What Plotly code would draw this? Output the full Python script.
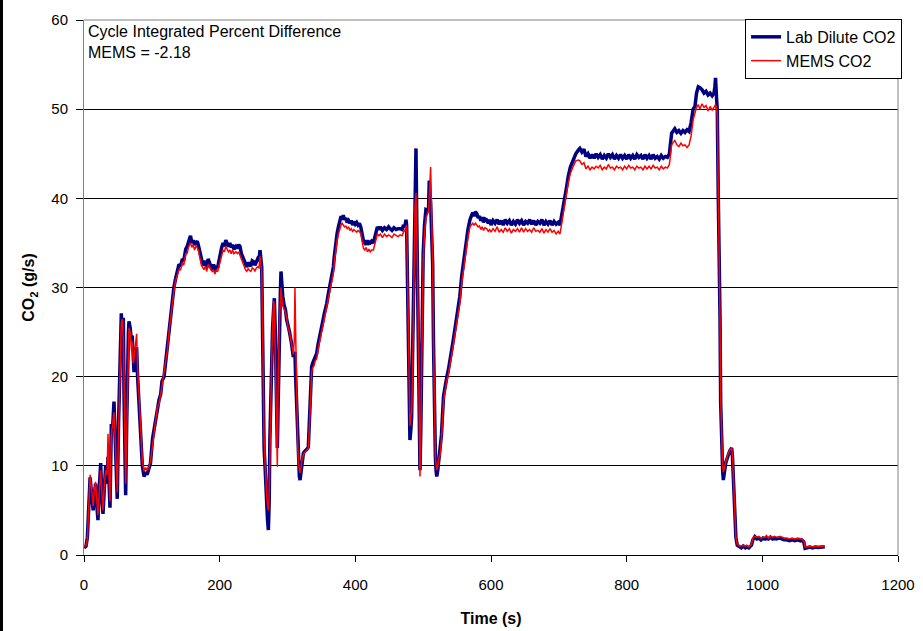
import plotly.graph_objects as go

time_s = [0, 3, 5, 7, 9, 11, 13.5, 15, 17, 19, 20.6, 22.5, 24.6, 26, 28, 30, 32, 34, 35.4, 37, 38.3, 40.3, 42, 44.2, 46, 47.5, 49, 51, 52.6, 54, 55, 56.5, 58, 59, 60, 61.4, 63, 64, 65.5, 66.3, 68, 70, 71, 72.5, 73.7, 75, 77.6, 79, 81, 83.5, 86, 88.5, 91, 93, 95.8, 98, 101, 103, 105.6, 108, 110.6, 113, 115, 118, 120, 123, 126, 128, 130, 132.5, 135, 138, 140, 142.5, 145, 147, 150, 152, 154, 157, 159, 161, 163, 165, 167, 169, 171, 173, 174.5, 177, 179, 181, 183, 185, 187, 189, 191, 193, 195, 197, 199, 201, 203, 205, 207, 209, 211, 213, 215, 217, 219, 221, 224, 226, 228, 230, 232, 234, 236, 238, 240, 242, 244, 246, 248, 250, 252, 254, 256, 258, 259.5, 261, 262, 263.4, 264.4, 265.5, 266.9, 268, 269.3, 270.5, 271.8, 273, 274, 275.5, 276.7, 278, 279.5, 280.6, 282, 283, 284, 285, 286, 287, 288, 289.5, 290.4, 291.5, 293, 295, 297, 298.8, 301, 303, 306, 307.5, 308.6, 310, 311, 312, 313.5, 315, 316, 317.5, 318.5, 320, 321.5, 323.4, 325, 327, 329, 330.7, 332, 333.5, 335.6, 337, 339, 341, 343, 345, 347, 350, 352, 354, 356, 357.8, 360, 362, 364, 366, 367.6, 369, 371, 373, 375, 377, 379, 380.5, 382.3, 384, 386, 388, 390, 392, 394, 396, 398, 400, 402, 404, 406, 408, 410, 412, 414, 416, 418, 420, 422, 424, 426.6, 428, 430, 432.5, 435, 437, 440, 443, 446, 449, 451, 454, 457, 460, 463, 466, 469, 471, 473, 474.7, 475.6, 476.6, 478, 479.3, 480.5, 481.8, 483, 484.3, 485.5, 486.8, 488, 489.4, 490.5, 491.6, 492.8, 494, 495.3, 496.5, 497.7, 499, 500, 502, 504, 506, 508, 509, 510, 511, 512.5, 514, 515.2, 516.4, 518, 519, 520, 521.5, 523, 525, 527, 530, 533, 535, 537, 540, 542, 544.4, 547, 549, 552, 554, 556.7, 559, 561.6, 564, 566, 569, 571, 573, 575, 577, 579, 581, 583, 585, 587, 589, 591, 593.6, 596, 598, 600, 603, 606, 609, 612, 615, 618, 621, 624, 627, 630, 633, 636, 639, 642, 645, 648, 651, 654, 657, 660, 663, 666, 669, 672, 675, 678, 681, 684, 687, 690, 693, 696, 699, 701.7, 704, 706.6, 709, 711.5, 714, 717, 721.3, 725, 728.7, 731, 734, 737, 740, 743, 746, 749, 752, 755, 758, 761, 764, 767, 770, 773, 776, 779, 782, 785, 788, 791, 794, 797, 800, 803, 806, 809, 812, 815, 818, 821, 824, 827, 830, 833, 836, 839, 842, 845, 848, 851, 854, 857, 860, 863, 866.3, 868.5, 871, 874, 877, 880, 883, 886, 889, 892, 895, 898, 900.7, 903, 905.6, 908, 911, 914, 917, 920, 923, 926, 928.7, 930, 931, 932.7, 933.6, 935, 936.6, 937.6, 938.6, 940, 941.5, 942.5, 944, 946, 948, 950, 952, 954.8, 956, 957.2, 958.5, 959.7, 961, 963, 966, 969, 972, 975, 977, 980, 984, 986, 989, 992, 995, 998, 1001, 1004, 1006, 1009, 1012, 1015, 1018, 1021, 1024, 1026, 1029, 1032, 1036, 1040, 1044, 1048, 1052, 1056, 1058, 1061, 1063, 1066, 1070, 1074, 1078, 1082, 1086, 1090, 1092]

lab_co2 = [0.8, 1.0, 2.0, 5.7, 8.7, 7.0, 5.0, 6.5, 8.0, 5.5, 3.9, 7.5, 10.3, 7.0, 4.6, 7.5, 10.0, 8.0, 11.0, 8.0, 5.3, 14.7, 14.0, 17.2, 12.0, 8.0, 6.3, 15.0, 21.7, 24.0, 27.1, 24.0, 26.6, 18.0, 11.4, 6.7, 15.0, 20.6, 25.0, 26.2, 25.5, 24.0, 24.6, 22.5, 20.5, 22.0, 23.3, 20.0, 17.2, 13.5, 10.0, 8.8, 9.3, 9.0, 9.7, 10.3, 13.0, 14.0, 15.1, 16.5, 17.4, 18.0, 19.5, 20.0, 21.5, 23.3, 26.0, 27.2, 28.3, 30.0, 31.0, 31.8, 32.6, 32.4, 33.2, 33.0, 34.3, 34.6, 35.2, 35.8, 35.0, 35.3, 34.8, 35.0, 35.2, 34.6, 33.8, 33.0, 32.8, 32.5, 33.0, 32.2, 33.2, 32.8, 32.4, 32.0, 32.6, 31.8, 32.4, 32.2, 33.0, 33.9, 34.5, 35.0, 34.6, 35.3, 35.0, 34.6, 35.0, 34.5, 34.8, 34.3, 34.6, 34.4, 34.8, 34.6, 33.8, 33.4, 33.1, 32.6, 32.3, 32.8, 32.5, 32.4, 33.0, 32.9, 32.5, 33.0, 33.2, 33.0, 34.2, 33.0, 32.3, 24.1, 15.5, 12.0, 9.9, 7.5, 6.2, 4.0, 2.8, 6.0, 12.9, 19.0, 23.7, 25.5, 27.5, 28.8, 25.0, 21.1, 15.0, 12.0, 16.0, 22.0, 26.7, 29.5, 31.8, 30.5, 29.0, 28.0, 27.5, 26.4, 25.8, 25.0, 23.7, 22.8, 22.2, 22.6, 22.6, 20.0, 16.6, 12.0, 9.9, 8.8, 8.4, 9.5, 10.6, 11.4, 11.6, 11.7, 11.9, 12.1, 14.5, 18.0, 21.1, 21.5, 21.8, 22.3, 22.6, 23.6, 24.5, 25.6, 26.2, 27.0, 27.6, 28.2, 29.2, 30.0, 30.8, 31.6, 32.3, 33.5, 35.0, 36.0, 36.8, 37.5, 38.0, 37.6, 38.1, 37.6, 37.8, 37.3, 37.5, 37.2, 37.5, 37.0, 37.4, 37.1, 37.3, 37.0, 37.2, 36.8, 35.8, 35.2, 35.0, 35.3, 34.8, 35.1, 35.0, 35.2, 35.0, 35.4, 35.8, 36.8, 36.5, 36.8, 36.4, 36.7, 36.5, 36.8, 36.6, 36.4, 36.7, 36.5, 36.6, 36.6, 36.5, 37.0, 36.8, 37.6, 37.0, 31.6, 22.2, 16.0, 12.9, 14.0, 15.5, 22.0, 29.0, 36.0, 41.3, 45.6, 38.0, 32.0, 25.2, 16.0, 9.5, 14.0, 21.5, 28.0, 33.8, 37.0, 38.7, 38.6, 39.0, 42.0, 41.0, 39.5, 36.0, 32.7, 24.0, 15.5, 11.0, 9.5, 8.8, 9.5, 10.5, 11.4, 13.5, 17.8, 19.5, 20.0, 20.7, 21.8, 23.0, 24.1, 25.5, 26.5, 27.5, 29.0, 31.2, 32.6, 33.8, 35.0, 36.5, 37.6, 37.9, 38.4, 38.0, 38.5, 38.3, 37.8, 38.0, 37.5, 37.9, 37.3, 37.7, 37.6, 37.2, 37.6, 37.0, 37.5, 37.2, 37.6, 37.1, 37.5, 37.0, 37.6, 37.2, 37.5, 37.0, 37.4, 37.1, 37.6, 37.2, 37.5, 37.0, 37.4, 37.2, 37.6, 37.1, 37.5, 37.0, 37.4, 37.2, 37.6, 37.0, 37.4, 37.1, 37.5, 37.0, 37.4, 37.1, 37.3, 37.0, 38.0, 38.7, 40.0, 41.3, 42.5, 43.5, 44.3, 45.0, 45.4, 45.6, 45.2, 45.5, 44.7, 45.0, 44.5, 44.9, 44.5, 45.0, 44.6, 44.9, 44.4, 44.8, 44.5, 45.0, 44.6, 44.9, 44.4, 44.8, 44.5, 44.9, 44.5, 44.8, 44.4, 44.9, 44.5, 44.8, 44.4, 44.9, 44.6, 44.8, 44.4, 44.9, 44.5, 44.8, 44.4, 44.9, 44.5, 44.7, 44.4, 44.8, 44.5, 44.7, 44.6, 45.0, 47.3, 47.6, 47.8, 47.4, 47.6, 47.3, 47.6, 47.4, 47.7, 47.5, 48.5, 50.0, 50.3, 51.8, 52.5, 52.4, 52.2, 51.8, 52.0, 51.6, 51.8, 51.5, 51.8, 52.5, 53.5, 51.0, 49.9, 40.6, 33.1, 26.7, 17.0, 12.1, 9.5, 8.4, 9.5, 10.3, 10.8, 11.3, 11.7, 12.0, 11.0, 8.8, 6.0, 3.9, 2.0, 1.1, 0.9, 0.8, 1.0, 0.8, 0.9, 0.8, 1.1, 1.7, 2.05, 1.8, 1.9, 1.7, 1.9, 1.8, 1.9, 1.8, 2.0, 1.8, 1.9, 1.8, 1.9, 1.9, 1.8, 1.7, 1.7, 1.6, 1.7, 1.6, 1.7, 1.6, 1.7, 1.5, 0.75, 0.8, 0.9, 0.8, 0.9, 0.85, 0.9, 0.9, 0.93]

mems_co2 = [0.9, 1.1, 1.8, 5.5, 9.0, 7.5, 5.5, 7.0, 8.2, 6.0, 4.5, 7.0, 9.5, 7.5, 5.0, 8.0, 9.5, 9.0, 13.6, 8.5, 6.0, 13.5, 15.0, 16.0, 13.0, 9.0, 7.0, 14.0, 20.0, 23.0, 26.0, 26.5, 24.0, 20.0, 13.0, 8.0, 14.0, 19.0, 24.0, 25.5, 25.0, 23.0, 24.0, 21.5, 22.0, 23.0, 24.8, 21.0, 17.5, 13.5, 10.5, 9.4, 9.8, 9.5, 9.9, 10.5, 12.5, 14.0, 15.0, 16.5, 17.0, 18.0, 19.0, 20.0, 21.0, 23.0, 25.5, 27.0, 28.0, 29.5, 30.8, 31.5, 32.0, 32.0, 32.8, 32.5, 33.8, 33.8, 34.5, 35.0, 34.5, 34.8, 34.2, 34.6, 34.5, 34.0, 33.2, 32.5, 32.3, 32.0, 32.4, 31.8, 32.6, 32.2, 32.0, 31.8, 32.0, 31.5, 32.0, 31.8, 32.5, 33.2, 33.8, 34.2, 34.0, 34.6, 34.3, 34.0, 34.2, 33.8, 34.2, 33.8, 34.0, 33.8, 34.0, 33.6, 33.0, 32.6, 32.4, 32.0, 31.8, 32.1, 31.9, 31.8, 32.2, 32.1, 31.8, 32.2, 32.3, 32.2, 33.5, 32.5, 31.8, 24.5, 17.0, 13.0, 10.5, 8.0, 6.6, 5.5, 5.0, 7.0, 12.0, 18.0, 22.0, 26.0, 28.5, 28.0, 22.0, 18.0, 12.0, 9.9, 18.0, 24.0, 26.0, 28.5, 30.0, 28.8, 28.0, 27.6, 27.2, 26.6, 25.4, 25.0, 23.8, 22.8, 22.5, 24.0, 30.0, 25.0, 17.0, 12.5, 10.5, 9.4, 9.2, 9.8, 10.8, 11.2, 11.5, 11.6, 11.8, 12.0, 14.0, 17.0, 20.5, 21.0, 21.2, 21.8, 22.0, 23.0, 24.0, 25.0, 25.6, 26.4, 27.0, 27.6, 28.6, 29.4, 30.2, 31.0, 31.6, 32.8, 34.2, 35.2, 36.0, 36.6, 37.0, 37.2, 37.0, 36.8, 36.9, 36.6, 36.8, 36.4, 36.6, 36.3, 36.5, 36.3, 36.2, 36.4, 36.3, 36.0, 35.0, 34.4, 34.2, 34.5, 34.0, 34.3, 34.0, 34.2, 34.2, 34.6, 35.0, 36.0, 35.8, 36.0, 35.6, 36.0, 35.7, 35.9, 35.8, 35.6, 36.0, 35.8, 35.7, 35.9, 35.8, 36.2, 36.4, 36.8, 37.0, 33.0, 24.0, 17.0, 14.5, 15.5, 15.9, 20.0, 27.0, 35.0, 39.0, 40.6, 37.0, 32.0, 25.2, 15.0, 8.8, 14.0, 21.5, 28.0, 33.0, 36.0, 37.8, 38.2, 38.6, 40.0, 42.0, 43.5, 38.0, 32.7, 24.0, 15.5, 11.0, 10.2, 9.5, 10.0, 10.8, 11.2, 13.0, 17.3, 19.0, 19.6, 20.2, 21.4, 22.4, 23.5, 24.8, 25.8, 27.0, 28.2, 30.4, 31.8, 33.0, 34.2, 35.6, 36.8, 37.0, 37.2, 37.0, 37.2, 37.0, 36.8, 36.9, 36.5, 36.8, 36.4, 36.7, 36.6, 36.3, 36.5, 36.2, 36.6, 36.3, 36.8, 36.2, 36.5, 36.2, 36.7, 36.3, 36.6, 36.1, 36.5, 36.3, 36.6, 36.2, 36.7, 36.2, 36.6, 36.3, 36.5, 36.2, 36.7, 36.3, 36.4, 36.2, 36.6, 36.1, 36.5, 36.2, 36.6, 36.2, 36.4, 36.0, 36.3, 36.0, 37.2, 38.0, 39.4, 40.6, 41.8, 42.8, 43.6, 44.2, 44.3, 44.2, 43.8, 44.0, 43.3, 43.6, 43.2, 43.5, 43.3, 43.6, 43.4, 43.7, 43.2, 43.5, 43.3, 43.8, 43.4, 43.5, 43.2, 43.6, 43.4, 43.5, 43.2, 43.6, 43.3, 43.7, 43.4, 43.5, 43.2, 43.6, 43.4, 43.5, 43.2, 43.6, 43.3, 43.6, 43.3, 43.7, 43.4, 43.5, 43.2, 43.6, 43.3, 43.5, 43.4, 43.8, 46.0, 46.2, 46.5, 46.0, 45.8, 46.2, 45.9, 46.0, 45.7, 46.0, 47.0, 48.8, 49.6, 50.2, 50.5, 50.0, 50.6, 50.2, 50.4, 49.8, 50.3, 49.9, 50.2, 50.4, 50.5, 50.0, 49.5, 41.0, 33.0, 26.5, 17.5, 12.5, 10.0, 9.3, 9.8, 10.5, 11.0, 11.4, 11.8, 12.0, 11.2, 9.0, 6.2, 4.0, 2.0, 1.2, 1.0, 1.0, 1.1, 1.0, 1.1, 0.9, 1.2, 1.9, 2.1, 2.0, 2.1, 1.9, 2.0, 2.0, 2.2, 1.9, 2.1, 2.0, 2.1, 2.0, 2.0, 2.1, 2.0, 1.9, 1.9, 1.8, 1.9, 1.8, 1.9, 1.8, 1.8, 1.6, 0.9, 0.9, 1.0, 0.9, 1.0, 0.95, 1.0, 1.0, 0.95]

x_ticks = [0, 200, 400, 600, 800, 1000, 1200]
y_ticks = [0, 10, 20, 30, 40, 50, 60]

FONT = "Liberation Sans, Arial, sans-serif"

fig = go.Figure()
fig.add_trace(go.Scatter(x=time_s, y=lab_co2, mode="lines", name="Lab Dilute CO2",
                         line=dict(color="#000080", width=3.5)))
fig.add_trace(go.Scatter(x=time_s, y=mems_co2, mode="lines", name="MEMS CO2",
                         line=dict(color="#FF0000", width=1.5)))

fig.update_layout(
    width=923, height=631,
    margin=dict(l=84, r=25, t=20, b=76),
    paper_bgcolor="white", plot_bgcolor="white",
    font=dict(family=FONT, color="black", size=15),
    showlegend=True,
    legend=dict(x=1.005, y=1.002, xanchor="right", yanchor="top",
                bgcolor="white", bordercolor="black", borderwidth=1,
                font=dict(size=16, family=FONT), itemwidth=30,
                tracegroupgap=0),
    xaxis=dict(range=[0, 1200], tickvals=x_ticks, ticks="outside", ticklen=6,
               tickcolor="black", showline=True, linecolor="black", linewidth=1,
               showgrid=False, zeroline=False, ticklabelstandoff=10,
               tickfont=dict(size=15), automargin=False,
               title=dict(text="<b>Time (s)</b>", font=dict(size=16), standoff=20)),
    yaxis=dict(range=[0, 60], tickvals=y_ticks, ticks="outside", ticklen=7,
               tickcolor="black", showline=True, linecolor="#808080", linewidth=1,
               showgrid=True, gridcolor="black", gridwidth=1, zeroline=False,
               ticklabelstandoff=5, tickfont=dict(size=15), automargin=False,
               title=dict(text="<b>CO<sub>2</sub> (g/s)</b>", font=dict(size=16), standoff=12)),
    annotations=[
        dict(xref="paper", yref="paper", x=0.003, y=0.999, xanchor="left", yanchor="top",
             align="left", showarrow=False,
             text="Cycle Integrated Percent Difference<br>MEMS = -2.18",
             font=dict(size=16, family=FONT)),
    ],
    shapes=[
        dict(type="line", xref="paper", yref="paper", x0=0, x1=1, y0=1, y1=1,
             line=dict(color="#808080", width=1)),
        dict(type="line", xref="paper", yref="paper", x0=1, x1=1, y0=0, y1=1,
             line=dict(color="#808080", width=1)),
        dict(type="rect", xref="paper", yref="paper", x0=-84/814, x1=-81/814,
             y0=-76/535, y1=1 + 20/535, line=dict(width=0), fillcolor="black"),
    ],
)

fig.write_html("out.html")
